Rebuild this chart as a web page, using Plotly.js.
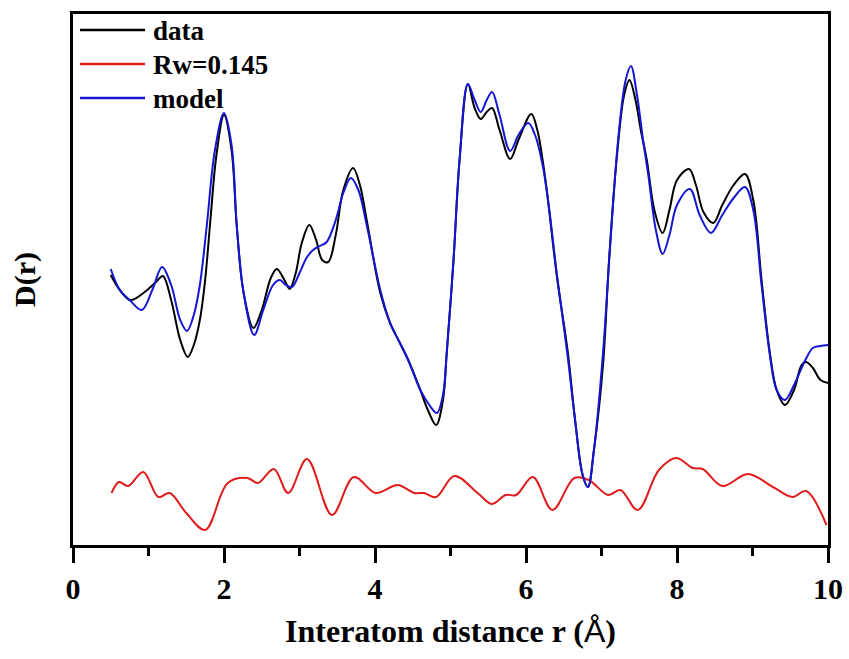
<!DOCTYPE html>
<html>
<head>
<meta charset="utf-8">
<script src="https://cdn.plot.ly/plotly-3.0.1.min.js"></script>
<style>html,body{margin:0;padding:0;background:#fff;}#chart{width:849px;height:659px;}</style>
</head>
<body>
<div id="chart"></div>
<script>
// Values in arbitrary D(r) units
const rData = [0.50,0.62,0.76,0.95,1.10,1.19,1.30,1.42,1.52,1.60,1.68,1.75,1.82,1.90,2.00,2.10,2.17,2.26,2.39,2.50,2.62,2.70,2.80,2.87,2.95,3.03,3.13,3.22,3.30,3.38,3.48,3.58,3.71,3.80,3.89,4.07,4.20,4.33,4.44,4.60,4.70,4.81,4.90,4.95,5.04,5.12,5.23,5.32,5.40,5.48,5.55,5.65,5.79,5.90,6.07,6.15,6.22,6.28,6.41,6.55,6.65,6.75,6.82,6.90,7.02,7.10,7.20,7.30,7.37,7.45,7.52,7.60,7.70,7.81,7.90,8.00,8.16,8.25,8.35,8.48,8.60,8.75,8.90,9.01,9.12,9.23,9.32,9.43,9.55,9.65,9.71,9.80,9.90,10.0];
const dData = [2.70,2.55,2.45,2.53,2.63,2.69,2.45,2.05,1.88,2.00,2.25,2.65,3.25,3.90,4.30,3.95,3.18,2.52,2.17,2.35,2.67,2.76,2.65,2.56,2.72,3.02,3.20,3.05,2.85,2.83,3.10,3.55,3.77,3.60,3.25,2.52,2.22,2.02,1.85,1.55,1.35,1.20,1.45,1.92,2.85,3.85,4.61,4.37,4.26,4.33,4.37,4.15,3.86,4.05,4.31,4.15,3.85,3.52,2.68,1.95,1.25,0.70,0.58,0.95,1.80,2.85,3.85,4.50,4.65,4.45,4.15,3.85,3.35,3.12,3.35,3.65,3.76,3.60,3.33,3.22,3.40,3.60,3.71,3.45,2.65,1.92,1.55,1.40,1.55,1.80,1.83,1.77,1.65,1.62];

const rModel = [0.50,0.62,0.75,0.91,1.05,1.18,1.30,1.42,1.51,1.60,1.68,1.77,1.88,2.00,2.10,2.17,2.26,2.40,2.52,2.65,2.74,2.82,2.90,3.00,3.10,3.18,3.27,3.36,3.48,3.58,3.68,3.78,3.89,4.07,4.20,4.33,4.44,4.60,4.72,4.82,4.90,4.95,5.04,5.12,5.23,5.32,5.40,5.48,5.55,5.65,5.79,5.90,6.03,6.12,6.22,6.30,6.41,6.55,6.65,6.75,6.82,6.90,7.02,7.12,7.22,7.32,7.39,7.47,7.55,7.62,7.72,7.81,7.90,8.00,8.17,8.30,8.45,8.60,8.75,8.90,9.01,9.12,9.23,9.32,9.43,9.55,9.70,9.80,9.90,10.0];
const dModel = [2.76,2.55,2.45,2.35,2.55,2.78,2.60,2.25,2.14,2.30,2.60,3.18,3.95,4.32,4.00,3.18,2.52,2.10,2.35,2.60,2.65,2.60,2.58,2.72,2.88,2.95,2.99,3.03,3.25,3.52,3.67,3.55,3.20,2.55,2.22,2.02,1.85,1.55,1.40,1.32,1.50,1.92,2.85,3.85,4.61,4.45,4.33,4.45,4.53,4.30,3.94,4.10,4.22,4.10,3.80,3.40,2.70,1.90,1.25,0.70,0.58,0.95,1.92,3.05,4.05,4.65,4.79,4.50,4.05,3.70,3.15,2.91,3.10,3.40,3.56,3.30,3.12,3.30,3.47,3.58,3.35,2.60,1.90,1.55,1.45,1.60,1.85,1.97,1.99,2.00];

const rDiff = [0.51,0.61,0.73,0.93,1.13,1.28,1.50,1.75,2.05,2.31,2.45,2.66,2.85,3.10,3.43,3.72,4.01,4.30,4.52,4.65,4.81,5.05,5.36,5.55,5.73,5.87,6.09,6.35,6.64,6.83,7.09,7.25,7.48,7.76,7.99,8.21,8.34,8.60,8.94,9.27,9.53,9.71,9.98];
const dDiff = [0.52,0.63,0.59,0.73,0.48,0.52,0.32,0.15,0.62,0.67,0.62,0.76,0.52,0.86,0.30,0.68,0.52,0.60,0.52,0.52,0.48,0.69,0.52,0.41,0.50,0.50,0.68,0.35,0.67,0.65,0.50,0.55,0.35,0.75,0.87,0.77,0.76,0.59,0.71,0.58,0.48,0.54,0.20];

const seriesNames = ['data', 'Rw=0.145', 'model'];
const seriesColors = ['#000000', '#e01b1b', '#1515d6'];

const FONT = 'Times New Roman, Liberation Serif, serif';
const W = 849, H = 659, ML = 73, MR = 21, MT = 14, MB = 114;
const px2paperX = p => (p - ML) / (W - ML - MR);
const py2paperY = p => (H - MB - p) / (H - MT - MB);

const traces = [
  {x: rData, y: dData, name: seriesNames[0], mode: 'lines', line: {color: seriesColors[0], width: 2, shape: 'spline', smoothing: 1}},
  {x: rDiff, y: dDiff, name: seriesNames[1], mode: 'lines', line: {color: seriesColors[1], width: 2, shape: 'spline', smoothing: 1}},
  {x: rModel, y: dModel, name: seriesNames[2], mode: 'lines', line: {color: seriesColors[2], width: 2, shape: 'spline', smoothing: 1}}
];

const legendRows = [30, 64, 98];
const shapes = [], annotations = [];
legendRows.forEach((py, i) => {
  shapes.push({type: 'line', xref: 'paper', yref: 'paper', x0: px2paperX(80), x1: px2paperX(145), y0: py2paperY(py), y1: py2paperY(py), line: {color: seriesColors[i], width: 2.5}});
  annotations.push({xref: 'paper', yref: 'paper', x: px2paperX(151), y: py2paperY(py + 1), xanchor: 'left', yanchor: 'middle', text: '<b>' + seriesNames[i] + '</b>', showarrow: false, font: {family: FONT, size: 27, color: '#000'}});
});

const layout = {
  width: W, height: H,
  margin: {l: ML, r: MR, t: MT, b: MB},
  paper_bgcolor: '#fff', plot_bgcolor: '#fff',
  showlegend: false,
  xaxis: {
    range: [0, 10], tickvals: [0, 2, 4, 6, 8, 10], ticktext: ['<b>0</b>','<b>2</b>','<b>4</b>','<b>6</b>','<b>8</b>','<b>10</b>'],
    ticks: 'outside', ticklen: 15, tickwidth: 3, tickcolor: '#000',
    minor: {dtick: 1, tick0: 0, ticks: 'outside', ticklen: 8, tickwidth: 3, tickcolor: '#000', showgrid: false},
    showline: true, linewidth: 3, linecolor: '#000', mirror: true,
    showgrid: false, zeroline: false,
    tickfont: {family: FONT, size: 30, color: '#000'},
    title: {text: "<b>Interatom distance r (<span style='font-family:Liberation Sans,Arial,sans-serif;font-weight:normal'>Å</span>)</b>", font: {family: FONT, size: 32, color: '#000'}, standoff: 16}
  },
  yaxis: {
    range: [0, 5.31],
    showticklabels: false, ticks: '',
    showline: true, linewidth: 3, linecolor: '#000', mirror: true,
    showgrid: false, zeroline: false,
    title: {text: '<b>D(r)</b>', font: {family: FONT, size: 30, color: '#000'}, standoff: 26}
  },
  shapes: shapes,
  annotations: annotations
};

Plotly.newPlot('chart', traces, layout, {displayModeBar: false, staticPlot: true});
</script>
</body>
</html>
